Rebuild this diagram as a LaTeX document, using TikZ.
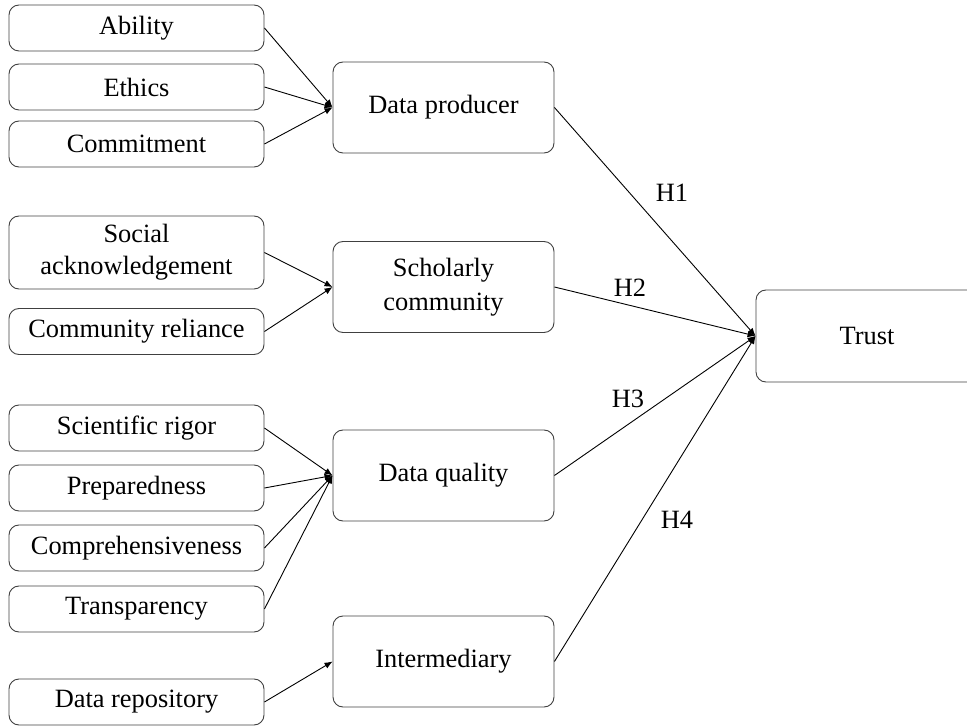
\documentclass[tikz,border=0pt]{standalone}
\usepackage{fontspec}
\setmainfont{Liberation Serif}
\usetikzlibrary{arrows.meta}

\begin{document}
\begin{tikzpicture}[x=1pt,y=-1pt,
  box/.style={draw=black!75,line width=0.9pt,rounded corners=10pt,align=center,
    font=\fontsize{26.4}{31}\selectfont,inner sep=0pt},
  leaf/.style={box,minimum width=255pt,minimum height=46pt},
  mid/.style={box,minimum width=221pt,minimum height=91pt},
  lbl/.style={font=\fontsize{26.4}{31}\selectfont,inner sep=0pt},
  link/.style={-{Latex[length=8pt,width=6.5pt]},line width=0.9pt}]
  \useasboundingbox (0,0) rectangle (967,727);
  % left column
  \node[leaf] (a) at (136.5,28) {Ability};
  \node[leaf] (b) at (136.5,87) {Ethics};
  \node[leaf] (c) at (136.5,144) {Commitment};
  \node[leaf,minimum height=73pt] (d) at (136.5,252.5) {Social\\[1pt]acknowledgement};
  \node[leaf] (e) at (136.5,331.5) {Community reliance};
  \node[leaf] (f) at (136.5,428) {Scientific rigor};
  \node[leaf] (g) at (136.5,488) {Preparedness};
  \node[leaf] (h) at (136.5,548) {Comprehensiveness};
  \node[leaf] (i) at (136.5,609) {Transparency};
  \node[leaf] (j) at (136.5,702) {Data repository};
  % middle column
  \node[mid] (p) at (443.5,107.5) {Data producer};
  \node[mid] (q) at (443.5,287) {Scholarly\\[3pt]community};
  \node[mid] (r) at (443.5,475.5) {Data quality};
  \node[mid] (s) at (443.5,661.5) {Intermediary};
  % outcome
  \node[mid,minimum width=222pt,minimum height=92pt] (t) at (867,336) {Trust};
  % links
  \draw[link] (a.east) -- (p.west);
  \draw[link] (b.east) -- (p.west);
  \draw[link] (c.east) -- (p.west);
  \draw[link] (d.east) -- (q.west);
  \draw[link] (e.east) -- (q.west);
  \draw[link] (f.east) -- (r.west);
  \draw[link] (g.east) -- (r.west);
  \draw[link] (h.east) -- (r.west);
  \draw[link] (i.east) -- (r.west);
  \draw[link] (j.east) -- (s.west);
  \draw[link] (p.east) -- (t.west);
  \draw[link] (q.east) -- (t.west);
  \draw[link] (r.east) -- (t.west);
  \draw[link] (s.east) -- (t.west);
  % hypotheses
  \node[lbl] (h1) at (672,193) {H1};
  \node[lbl] (h2) at (630,288) {H2};
  \node[lbl] (h3) at (628,399) {H3};
  \node[lbl] (h4) at (677,520) {H4};
\end{tikzpicture}
\end{document}
